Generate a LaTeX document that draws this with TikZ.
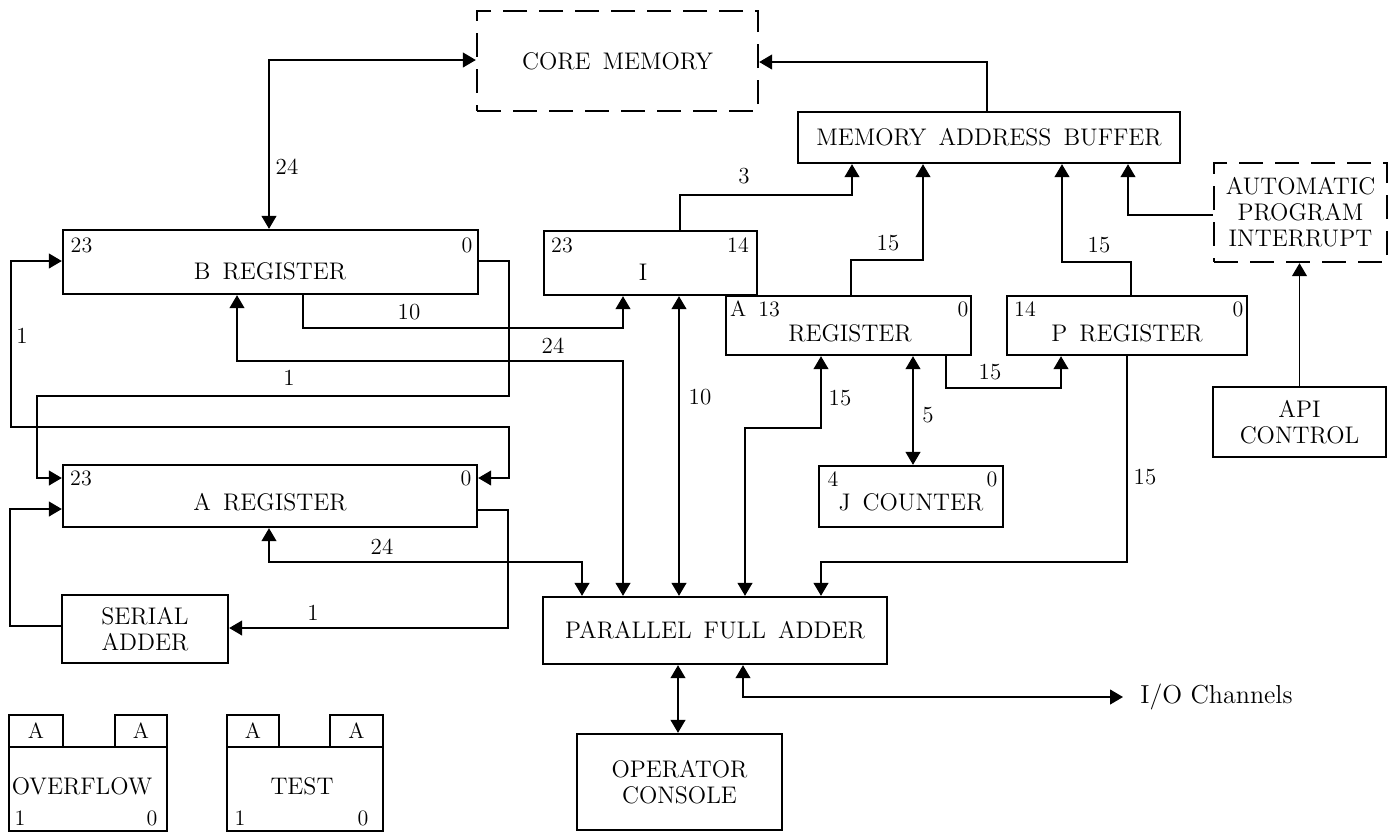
\documentclass[tikz,border=0pt]{standalone}
\usetikzlibrary{arrows.meta}
\newcommand\mywordsp{\spaceskip 6pt\relax}
\begin{document}
\begin{tikzpicture}[x=0.5pt,y=-0.5pt,
  >={Triangle[length=6.5pt,width=7.5pt]},
  box/.style={draw, line width=1.2pt, inner sep=0pt},
  dbox/.style={box, dash pattern=on 12pt off 6pt},
  conn/.style={line width=0.6pt},
  txt/.style={font=\fontsize{12}{13}\selectfont\mywordsp, align=center, inner sep=0pt},
  lbl/.style={font=\fontsize{11.5}{13}\selectfont, inner sep=0pt},
  crn/.style={font=\fontsize{11}{13}\selectfont, inner sep=0pt},
]
\useasboundingbox (0,0) rectangle (1398,832);

% ---- boxes ----
\node[dbox, txt, minimum width=140.5pt, minimum height=50pt] (core) at (617.5,61) {CORE MEMORY};
\node[box, txt, minimum width=191pt, minimum height=25.5pt] (mab) at (989,137.5) {MEMORY ADDRESS BUFFER};
\node[dbox, txt, minimum width=86.5pt, minimum height=49.5pt] (api) at (1300.5,212.5) {AUTOMATIC\\PROGRAM\\INTERRUPT};
\node[box, txt, minimum width=86.5pt, minimum height=35pt] (apictl) at (1299.5,422) {API\\CONTROL};
\node[box, minimum width=207.5pt, minimum height=32pt] (breg) at (270.5,262) {};
\node[box, minimum width=106.5pt, minimum height=32pt] (ireg) at (650.5,263) {};
\node[box, minimum width=122.5pt, minimum height=29.5pt] (xreg) at (848.5,325.5) {};
\node[box, minimum width=120pt, minimum height=29.5pt] (preg) at (1127,325.5) {};
\node[box, minimum width=207pt, minimum height=31pt] (areg) at (270,496) {};
\node[box, minimum width=92pt, minimum height=30.5pt] (jcnt) at (911,496.5) {};
\node[box, txt, minimum width=83pt, minimum height=34pt] (serial) at (145,629) {SERIAL\\ADDER};
\node[box, txt, minimum width=172pt, minimum height=33.5pt] (pfa) at (715,630.5) {PARALLEL FULL ADDER};
\node[box, txt, minimum width=102.5pt, minimum height=48pt] (opc) at (679.5,782) {OPERATOR\\CONSOLE};

% register texts
\node[txt] (bregt) at (270,271) {B REGISTER};
\node[txt] (iregt) at (643,272) {I};
\node[txt] (xregt) at (850,333) {REGISTER};
\node[txt] (pregt) at (1127,333) {P REGISTER};
\node[txt] (aregt) at (270,502) {A REGISTER};
\node[txt] (jcntt) at (911,502) {J COUNTER};

% corner numbers
\node[crn] (b23) at (81.5,245) {23};
\node[crn] (b0) at (467,245) {0};
\node[crn] (i23) at (562,245) {23};
\node[crn] (i14) at (738,245) {14};
\node[crn] (x13) at (755,309) {A\hspace{6pt}13};
\node[crn] (x0) at (963,309) {0};
\node[crn] (p14) at (1025,309) {14};
\node[crn] (p0) at (1238,309) {0};
\node[crn] (j4) at (833,479) {4};
\node[crn] (j0) at (992,479) {0};
\node[crn] (a23) at (81,478) {23};
\node[crn] (a0) at (466,478) {0};

% overflow / test
\node[box, minimum width=79pt, minimum height=42pt] (ovf) at (88,789) {};
\node[box, crn, minimum width=27pt, minimum height=16pt] (ovfa) at (36,731) {A};
\node[box, crn, minimum width=26pt, minimum height=16pt] (ovfb) at (141,731) {A};
\node[txt] (ovft) at (82,786) {OVERFLOW};
\node[crn] (ovf1) at (20,818) {1};
\node[crn] (ovf0) at (152,818) {0};

\node[box, minimum width=78pt, minimum height=42pt] (tst) at (305,789) {};
\node[box, crn, minimum width=26pt, minimum height=16pt] (tsta) at (253,731) {A};
\node[box, crn, minimum width=26.5pt, minimum height=16pt] (tstb) at (356.5,731) {A};
\node[txt] (tstt) at (302,786) {TEST};
\node[crn] (tst1) at (240,818) {1};
\node[crn] (tst0) at (363,818) {0};

\node[font=\fontsize{13}{15}\selectfont, anchor=west, inner xsep=8.5pt, inner ysep=0pt] (io) at (1123,697) {I/O Channels};

% ---- connectors ----
\draw[conn,<->] (core.west |- 0,60) -| (breg.north -| 269,0);
\draw[conn,->] (mab.north -| 987,0) |- (core.east |- 0,62);
\draw[conn,->] (ireg.north -| 680,0) -- (680,195) -| (mab.south -| 852,0);
\draw[conn,->] (xreg.north -| 851,0) -- (851,260) -| (mab.south -| 923,0);
\draw[conn,->] (preg.north -| 1131,0) -- (1131,262) -| (mab.south -| 1062,0);
\draw[conn,->] (api.west |- 0,215) -| (mab.south -| 1128,0);
\draw[conn,->] (apictl.north) -- (apictl.north |- api.south);

\draw[conn,->] (breg.south -| 303,0) -- (303,328) -| (ireg.south -| 623,0);
\draw[conn,<->] (breg.south -| 237,0) -- (237,361) -| (pfa.north -| 623,0);
\draw[conn,->] (breg.east |- 0,261) -- (509,261) -- (509,396) -- (37,396) -- (37,478) -- (areg.west |- 0,478);
\draw[conn,<->] (breg.west |- 0,261) -- (11,261) -- (11,427) -- (509,427) -- (509,478) -- (areg.east |- 0,478);
\draw[conn,->] (areg.east |- 0,510) -- (508,510) |- (serial.east |- 0,628);
\draw[conn,->] (serial.west |- 0,626) -- (10,626) |- (areg.west |- 0,509);
\draw[conn,<->] (areg.south -| 269,0) -- (269,562) -| (pfa.north -| 582,0);
\draw[conn,<->] (ireg.south -| 679,0) -- (pfa.north -| 679,0);
\draw[conn,<->] (xreg.south -| 821,0) -- (821,428) -| (pfa.north -| 745,0);
\draw[conn,<->] (xreg.south -| 913,0) -- (jcnt.north -| 913,0);
\draw[conn,->] (xreg.south -| 946,0) -- (946,388) -| (preg.south -| 1061,0);
\draw[conn,->] (preg.south -| 1127,0) -- (1127,562) -| (pfa.north -| 821,0);
\draw[conn,<->] (pfa.south -| 678,0) -- (opc.north -| 678,0);
\draw[conn,<->] (pfa.south -| 743,0) |- (io.west);

% ---- connector labels ----
\node[lbl] at (287,167) {24};
\node[lbl] at (744,176) {3};
\node[lbl] at (888,243) {15};
\node[lbl] at (1099,245) {15};
\node[lbl] at (409,312) {10};
\node[lbl] at (553,346) {24};
\node[lbl] at (22,336) {1};
\node[lbl] at (289,378) {1};
\node[lbl] at (382,547) {24};
\node[lbl] at (313,613) {1};
\node[lbl] at (700,397) {10};
\node[lbl] at (840,398) {15};
\node[lbl] at (928,415) {5};
\node[lbl] at (990,372) {15};
\node[lbl] at (1145,477) {15};
\end{tikzpicture}
\end{document}
